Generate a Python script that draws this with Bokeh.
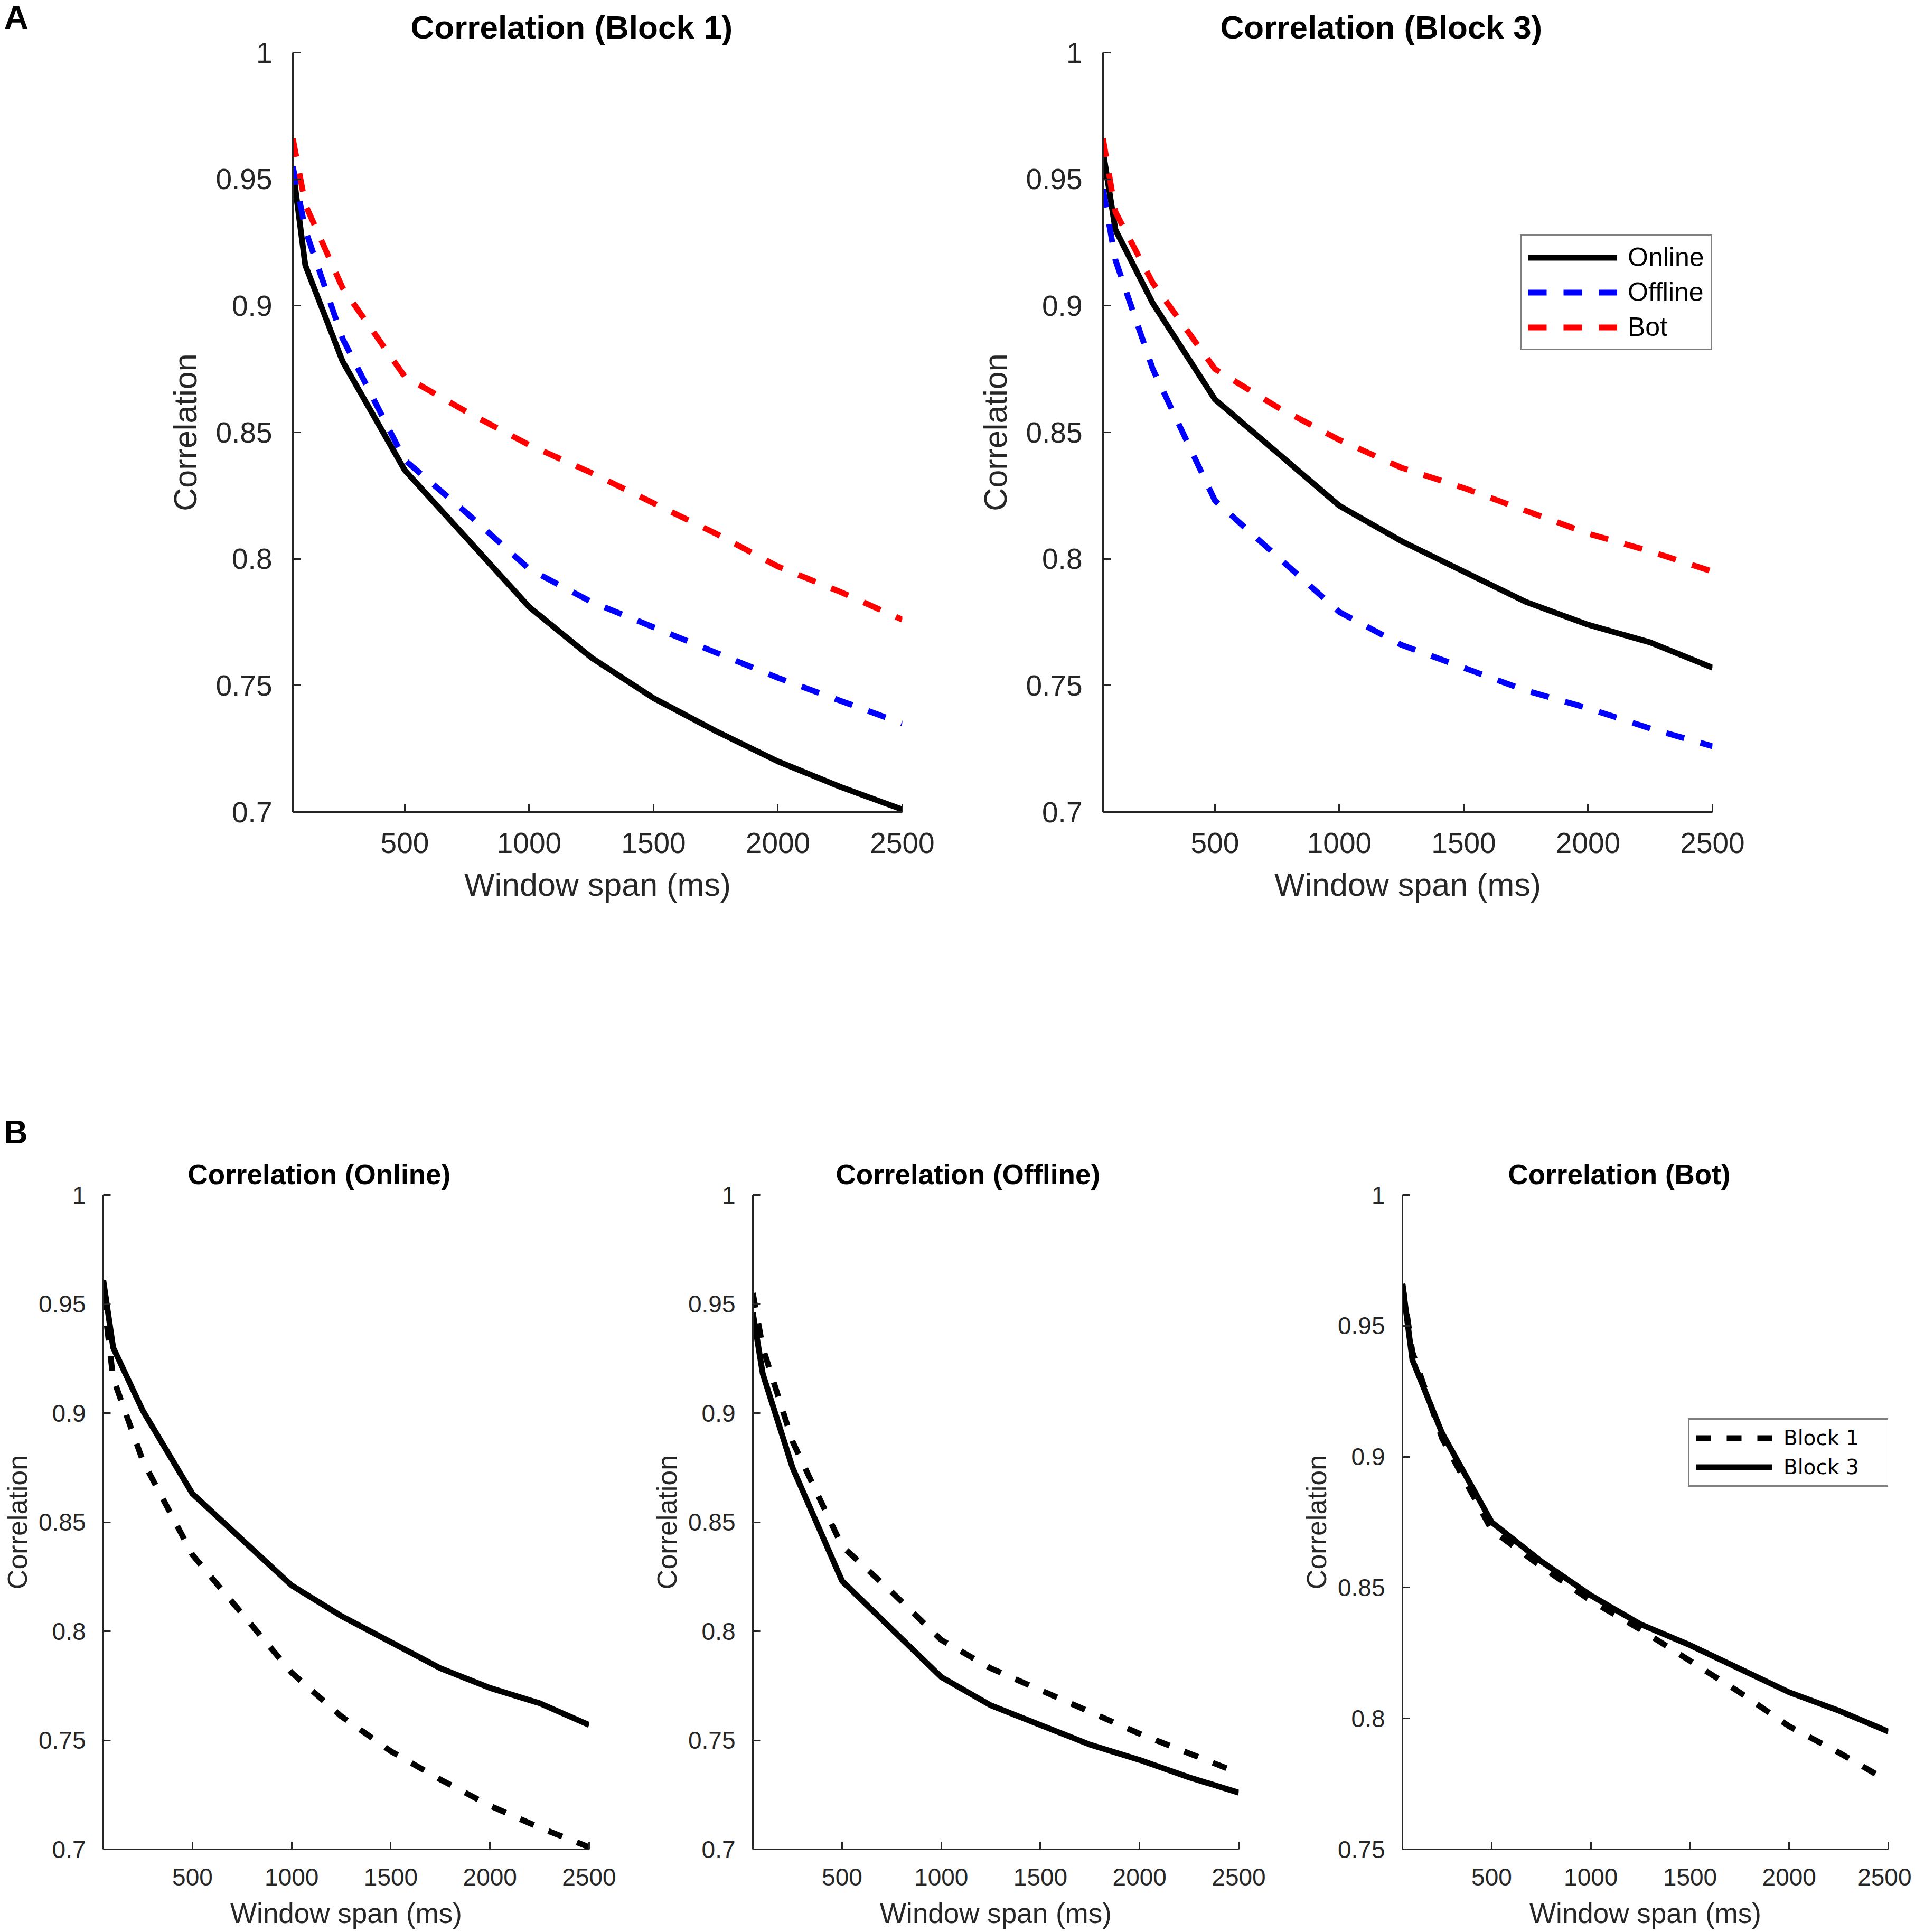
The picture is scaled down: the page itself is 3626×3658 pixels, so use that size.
from bokeh.plotting import figure
from bokeh.models import (Range1d, FixedTicker, CustomJSTickFormatter,
                          Legend, LegendItem, Div)
from bokeh.layouts import row, column
from bokeh.embed import file_html
from bokeh.resources import INLINE

# ---------------- data ----------------
window_ms = [50, 100, 250, 500, 750, 1000, 1250, 1500, 1750, 2000, 2250, 2500]

online_block1 = [0.954, 0.916, 0.878, 0.835, 0.808, 0.781, 0.761, 0.745, 0.732, 0.720, 0.710, 0.701]
offline_block1 = [0.955, 0.930, 0.887, 0.839, 0.818, 0.796, 0.783, 0.773, 0.763, 0.753, 0.744, 0.735]
bot_block1 = [0.966, 0.940, 0.907, 0.872, 0.858, 0.845, 0.834, 0.822, 0.810, 0.797, 0.787, 0.776]

online_block3 = [0.961, 0.930, 0.901, 0.863, 0.842, 0.821, 0.807, 0.795, 0.783, 0.774, 0.767, 0.757]
offline_block3 = [0.946, 0.918, 0.875, 0.823, 0.801, 0.779, 0.766, 0.757, 0.748, 0.741, 0.733, 0.726]
bot_block3 = [0.966, 0.937, 0.909, 0.875, 0.860, 0.847, 0.836, 0.828, 0.819, 0.810, 0.803, 0.795]

x_ticks = [500, 1000, 1500, 2000, 2500]
y_ticks = [0.7, 0.75, 0.8, 0.85, 0.9, 0.95, 1.0]
y_ticks_bot = [0.75, 0.8, 0.85, 0.9, 0.95, 1.0]

titles_a = ["Correlation (Block 1)", "Correlation (Block 3)"]
titles_b = ["Correlation (Online)", "Correlation (Offline)", "Correlation (Bot)"]
legend_a = ["Online", "Offline", "Bot"]
legend_b = ["Block 1", "Block 3"]
panel_letters = ["A", "B"]

AX = "#262626"
FMT = CustomJSTickFormatter(code="return String(Math.round(tick*100)/100);")


def make_panel(title, ymin, yticks, bl, br, bt, bb, fw, fh, big, title_offset, title_sd=28):
    if big:
        tick_fs, xlab_fs, ylab_fs, title_fs = "55px", "61px", "61px", "62px"
        ylab_sd, xlab_sd, ytick_sd, xtick_sd = 20, 23, 39, 39
        tick_len = 15
    else:
        tick_fs, xlab_fs, ylab_fs, title_fs = "46px", "53px", "52px", "53px"
        ylab_sd, xlab_sd, ytick_sd, xtick_sd = 8, 20, 33, 36
        tick_len = 14
    p = figure(title=title, frame_width=fw, frame_height=fh,
               min_border_left=bl, min_border_right=br,
               min_border_top=bt, min_border_bottom=bb,
               x_range=Range1d(50, 2500), y_range=Range1d(ymin, 1.0),
               output_backend="svg", toolbar_location=None,
               background_fill_color="white", border_fill_color="white")
    p.outline_line_color = None
    p.grid.visible = False
    p.title.align = "left"
    p.title.offset = title_offset
    p.title.standoff = title_sd
    p.title.text_font = "Liberation Sans"
    p.title.text_font_size = title_fs
    p.title.text_font_style = "bold"
    p.title.text_color = "black"

    p.xaxis.ticker = FixedTicker(ticks=x_ticks)
    p.yaxis.ticker = FixedTicker(ticks=yticks)
    p.xaxis.formatter = FMT
    p.yaxis.formatter = FMT
    for ax in (p.xaxis, p.yaxis):
        ax.axis_line_color = AX
        ax.axis_line_width = 3
        ax.major_tick_line_color = AX
        ax.major_tick_line_width = 3
        ax.major_tick_in = tick_len
        ax.major_tick_out = 0
        ax.minor_tick_line_color = None
        ax.major_label_text_font = "Liberation Sans"
        ax.major_label_text_font_size = tick_fs
        ax.major_label_text_color = AX
        ax.axis_label_text_font = "Liberation Sans"
        ax.axis_label_text_font_style = "normal"
        ax.axis_label_text_color = AX
    p.xaxis.axis_label = "Window span (ms)"
    p.yaxis.axis_label = "Correlation"
    p.xaxis.axis_label_text_font_size = xlab_fs
    p.yaxis.axis_label_text_font_size = ylab_fs
    p.xaxis.major_label_standoff = xtick_sd
    p.yaxis.major_label_standoff = ytick_sd
    p.xaxis.axis_label_standoff = xlab_sd
    p.yaxis.axis_label_standoff = ylab_sd
    return p


def letter_div(letter, w, h, left, top):
    html = ('<div style="position:relative; left:%dpx; top:%dpx; '
            'font-family:\'Liberation Sans\'; font-weight:bold; font-size:63px; '
            'line-height:63px; color:black; margin:0; padding:0;">%s</div>'
            % (left, top, letter))
    return Div(text=html, width=w, height=h, margin=(0, 0, 0, 0))


LW = 11
DASH_A = "35 32"
DASH_B = "28 30"

# ---------------- panel A ----------------
let_a = letter_div(panel_letters[0], 70, 110, 8, 1)

pa1 = make_panel(titles_a[0], 0.7, y_ticks, 484, 97, 91, 463, 1154, 1438, True, 223)
pa1.line(window_ms, online_block1, line_color="black", line_width=LW)
pa1.line(window_ms, offline_block1, line_color="#0000FF", line_width=LW, line_dash=DASH_A)
pa1.line(window_ms, bot_block1, line_color="#FF0000", line_width=LW, line_dash=DASH_A)

pa2 = make_panel(titles_a[1], 0.7, y_ticks, 283, 368, 91, 463, 1154, 1438, True, 222)
r_on = pa2.line(window_ms, online_block3, line_color="black", line_width=LW)
r_off = pa2.line(window_ms, offline_block3, line_color="#0000FF", line_width=LW, line_dash=DASH_A)
r_bot = pa2.line(window_ms, bot_block3, line_color="#FF0000", line_width=LW, line_dash=DASH_A)
leg_a = Legend(items=[LegendItem(label=legend_a[0], renderers=[r_on]),
                      LegendItem(label=legend_a[1], renderers=[r_off]),
                      LegendItem(label=legend_a[2], renderers=[r_bot])],
               location=(790, 874), margin=0, padding=12, spacing=8,
               glyph_width=169, glyph_height=55, label_standoff=20,
               label_text_font="Liberation Sans", label_text_font_size="50px",
               label_text_color="black", border_line_color="black",
               border_line_width=3, background_fill_color="white",
               background_fill_alpha=1.0)
pa2.add_layout(leg_a)

# ---------------- panel B ----------------
let_b = letter_div(panel_letters[1], 70, 172, 7, 112)

pb1 = make_panel(titles_b[0], 0.7, y_ticks, 192, 115, 90, 144, 920, 1239, False, 160, 20)
pb1.line(window_ms, online_block1, line_color="black", line_width=LW, line_dash=DASH_B)
pb1.line(window_ms, online_block3, line_color="black", line_width=LW)

pb2 = make_panel(titles_b[1], 0.7, y_ticks, 192, 115, 262, 144, 920, 1239, False, 157, 20)
pb2.line(window_ms, offline_block1, line_color="black", line_width=LW, line_dash=DASH_B)
pb2.line(window_ms, offline_block3, line_color="black", line_width=LW)

pb3 = make_panel(titles_b[2], 0.75, y_ticks_bot, 192, 44, 262, 144, 920, 1239, False, 200, 20)
r_b1 = pb3.line(window_ms, bot_block1, line_color="black", line_width=LW, line_dash=DASH_B)
r_b3 = pb3.line(window_ms, bot_block3, line_color="black", line_width=LW)
leg_b = Legend(items=[LegendItem(label=legend_b[0], renderers=[r_b1]),
                      LegendItem(label=legend_b[1], renderers=[r_b3])],
               location=(541, 686), margin=0, padding=12, spacing=10,
               glyph_width=144, glyph_height=45, label_standoff=22, label_width=185,
               label_text_font="DejaVu Sans", label_text_font_size="39px",
               label_text_color="black", border_line_color="black",
               border_line_width=3, background_fill_color="white",
               background_fill_alpha=1.0)
pb3.add_layout(leg_b)

layout = column(row(let_a, pa1, pa2), row(column(let_b, pb1), pb2, pb3))

with open("out.html", "w") as f:
    f.write(file_html(layout, INLINE))
